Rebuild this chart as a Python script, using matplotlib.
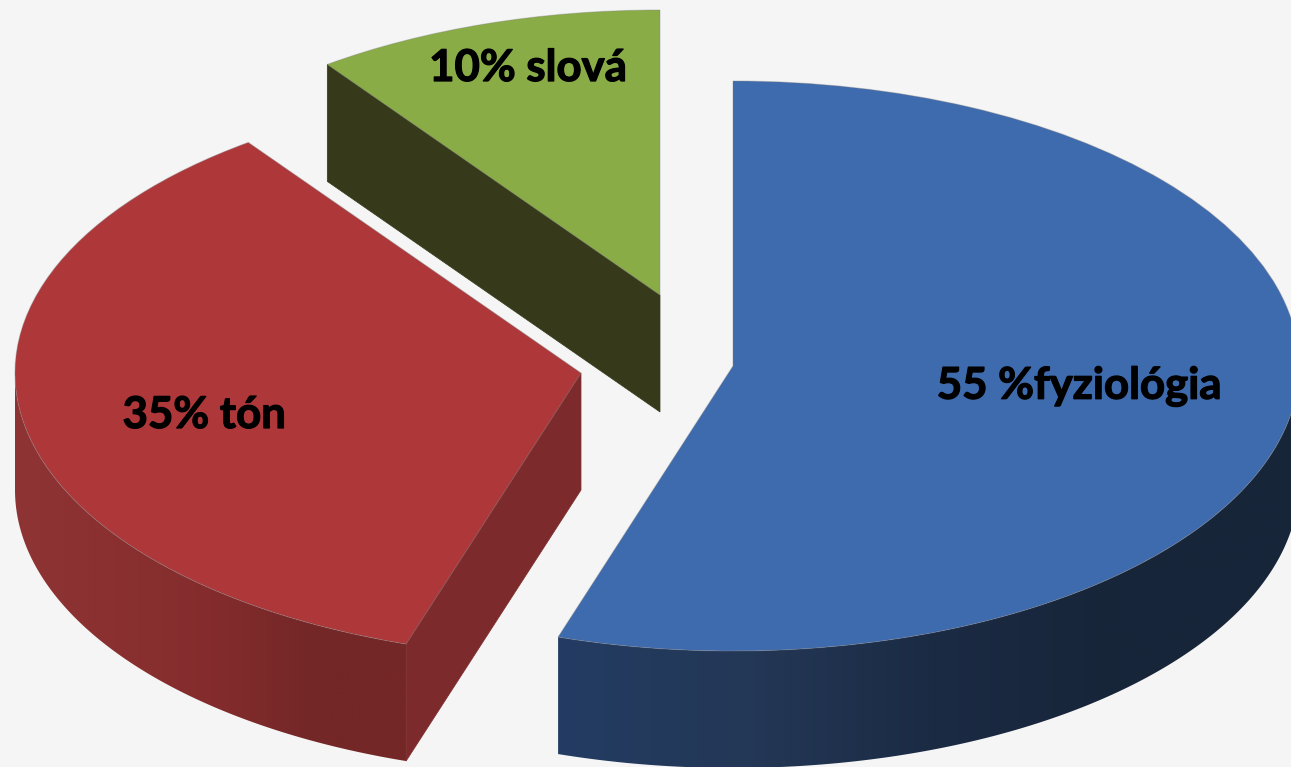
import numpy as np
import matplotlib
matplotlib.use("Agg")
import matplotlib.pyplot as plt
import matplotlib.patheffects as pe
from matplotlib.colors import LinearSegmentedColormap
from matplotlib.patches import Polygon, Wedge
from matplotlib.transforms import Affine2D

# Chart data, clockwise from twelve o'clock
categories = ["fyziológia", "tón", "slová"]
shares = [55, 35, 10]
labels = ["55 %fyziológia", "35% tón", "10% slová"]

# Exploded slice centres and label anchors, in pixels
centres = [(733, 366), (581, 373), (660, 295)]
label_xy = [(1079, 386), (204, 415), (528, 68)]

# Look of each slice
top_colours = ["#3e6aae", "#ae373a", "#89ac46"]
rim_ramps = [
    ["#233c63", "#243857", "#1b2b44", "#172539", "#172539"],
    ["#8f3434", "#8a3031", "#842c2d", "#742727", "#742727"],
    None,
]
cut_colours = [None, "#7c2a2b", "#36391a"]

RX, RY = 566, 285
DEPTH = 117
BACKGROUND = "#f5f5f5"

fig = plt.figure(figsize=(12.91, 7.67), dpi=100, facecolor=BACKGROUND)
ax = fig.add_axes([0, 0, 1, 1])


def rim_point(centre, theta):
    rad = np.radians(theta)
    return centre[0] + RX * np.cos(rad), centre[1] + RY * np.sin(rad)


fractions = np.cumsum([0] + shares) / sum(shares)
# With the y axis pointing down, increasing angles run clockwise on screen.
angles = -90 + 360 * fractions

for i, share in enumerate(shares):
    start, end = angles[i], angles[i + 1]
    centre = centres[i]

    # Curved outer wall: only the part of the arc facing the viewer shows.
    lo, hi = max(start, 0), min(end, 180)
    if rim_ramps[i] is not None and hi > lo:
        arc = np.array([rim_point(centre, t) for t in np.linspace(lo, hi, 240)])
        outline = np.vstack([arc, arc[::-1] + [0, DEPTH]])
        ramp = LinearSegmentedColormap.from_list("rim", rim_ramps[i], N=512)
        left, right = outline[:, 0].min(), outline[:, 0].max()
        bottom, top = outline[:, 1].max(), outline[:, 1].min()
        # Horizontal shading, darkening towards the right of the wall.
        image = ax.imshow(np.linspace(0, 1, 512).reshape(1, -1), cmap=ramp,
                          extent=(left, right, bottom, top), aspect="auto",
                          interpolation="bilinear", zorder=2)
        clip = Polygon(outline, closed=True, transform=ax.transData,
                       facecolor="none", edgecolor="none")
        ax.add_patch(clip)
        image.set_clip_path(clip)

    # Straight cut face of the slices that open towards the viewer.
    if cut_colours[i] is not None:
        p = rim_point(centre, start)
        face = [centre, p, (p[0], p[1] + DEPTH), (centre[0], centre[1] + DEPTH)]
        ax.add_patch(Polygon(face, closed=True, facecolor=cut_colours[i],
                             edgecolor=cut_colours[i], linewidth=0.5, zorder=2))

    # Flat top, a unit wedge squashed into the tilted ellipse.
    squash = Affine2D().scale(RX, RY).translate(*centre) + ax.transData
    ax.add_patch(Wedge((0, 0), 1, start, end, transform=squash,
                       facecolor=top_colours[i],
                       edgecolor=(0.5, 0.5, 0.5, 0.35), linewidth=0.8, zorder=3))

    ax.text(*label_xy[i], labels[i], ha="center", va="center", family="Lato",
            fontweight="bold", fontsize=31.5, color="black", zorder=4,
            path_effects=[pe.withStroke(linewidth=0.9, foreground="black")])

ax.set_xlim(0, 1291)
ax.set_ylim(767, 0)
ax.axis("off")

fig.savefig("out.png", dpi=100, facecolor=BACKGROUND)
